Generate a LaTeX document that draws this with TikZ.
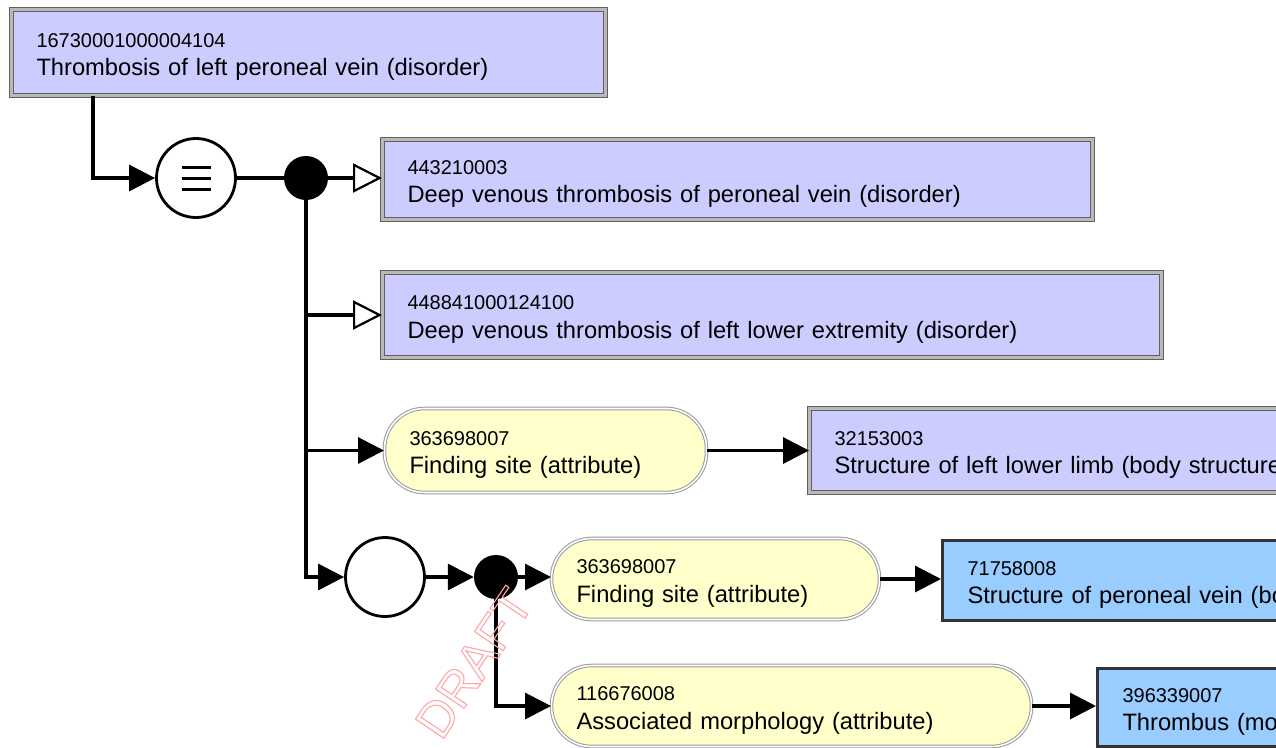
\documentclass[tikz,border=0pt]{standalone}
\usepackage{fontspec}
\setmainfont{Liberation Sans}
\usetikzlibrary{arrows.meta,positioning}
\definecolor{primfill}{HTML}{CCCCFF}
\definecolor{attrfill}{HTML}{FFFFCC}
\definecolor{defdfill}{HTML}{99CCFF}
\newcommand{\sctid}[1]{{\fontsize{20}{28.5}\selectfont\rule{0pt}{23pt}#1}}
\tikzset{
  concept/.style={anchor=north west, align=left, inner xsep=25pt, inner ysep=0pt,
    font=\fontsize{23.7}{28.5}\selectfont},
  prim/.style={concept, fill=primfill, draw=gray!75!black, double=gray!55,
    double distance=2.2pt, line width=1pt},
  defd/.style={concept, fill=defdfill, draw=black!80, line width=3pt},
  attr/.style={concept, fill=attrfill, draw=gray!80, double=white,
    double distance=1.6pt, line width=1pt, rounded corners=40pt},
  opcirc/.style={circle, draw, line width=2.8pt, fill=white, minimum size=79pt, inner sep=0pt},
  blob/.style={circle, fill=black, minimum size=44pt, inner sep=0pt},
  farr/.style={-{Triangle[length=26pt,width=26pt]}, line width=3.2pt},
  oarr/.style={-{Triangle[open,length=29pt,width=29pt,line width=2.2pt]}, line width=3.2pt},
}
\begin{document}
\begin{tikzpicture}[x=1pt, y=-1pt]
\useasboundingbox (0,0) rectangle (1276,747);
\clip (0,0) rectangle (1276,747);
% concepts
\node[prim, text width=544pt, minimum height=86pt] (b1) at (11,9)
  {\sctid{16730001000004104}\\Thrombosis of left peroneal vein (disorder)};
\node[opcirc, path picture={
    \foreach \dy in {-11,0,11}
      \draw[line width=3pt] ([shift={(-14.5,\dy)}]path picture bounding box.center) -- ++(29,0);
  }] (eq) at (196,178) {};
\node[blob] (d1) at (306,178) {};
\node[prim, text width=660pt, minimum height=80pt] (b2) at (382,139)
  {\sctid{443210003}\\Deep venous thrombosis of peroneal vein (disorder)};
\node[prim, text width=729pt, minimum height=85pt] (b3) at (382,272)
  {\sctid{448841000124100}\\Deep venous thrombosis of left lower extremity (disorder)};
\node[attr, text width=272pt, minimum height=84pt] (a1) at (384,408)
  {\sctid{363698007}\\Finding site (attribute)};
\node[prim, text width=600pt, minimum height=84pt] (b4) at (809,408)
  {\sctid{32153003}\\Structure of left lower limb (body structure)};
\node[opcirc] (c2) at (385,577) {};
\node[blob] (d2) at (496,577) {};
\node[attr, text width=278pt, minimum height=81pt] (a2) at (551,538)
  {\sctid{363698007}\\Finding site (attribute)};
\node[defd, text width=540pt, minimum height=80pt] (b5) at (941,539)
  {\sctid{71758008}\\Structure of peroneal vein (body structure)};
\node[attr, text width=430pt, minimum height=81pt] (a3) at (551,665)
  {\sctid{116676008}\\Associated morphology (attribute)};
\node[defd, text width=460pt, minimum height=78pt] (b6) at (1096,667)
  {\sctid{396339007}\\Thrombus (morphologic abnormality)};
% connectors
\draw[farr] (b1.south west) ++(82,0) |- (eq.west);
\draw[line width=3.2pt] (eq) -- (d1);
\draw[oarr] (d1) -- (d1 -| b2.west);
\draw[farr] (d1) |- (c2.west);
\draw[oarr] (d1 |- b3.west) -- (b3.west);
\draw[farr] (d1 |- a1.west) -- (a1.west);
\draw[farr] (a1.east) -- (a1.east -| b4.west);
\draw[farr] (c2) -- (d2);
\draw[farr] (d2) -- (d2 -| a2.west);
\draw[farr] (a2.east) -- (a2.east -| b5.west);
\draw[farr] (d2) |- (a3.west);
\draw[farr] (a3.east) -- (a3.east -| b6.west);
% watermark
\node[text=red!35, rotate=56, font=\fontsize{50}{50}\selectfont] (draft) at (474,663)
  {\special{pdf:literal direct 1 Tr 1.1 w}DRAFT\special{pdf:literal direct 0 Tr}};
\end{tikzpicture}
\end{document}
